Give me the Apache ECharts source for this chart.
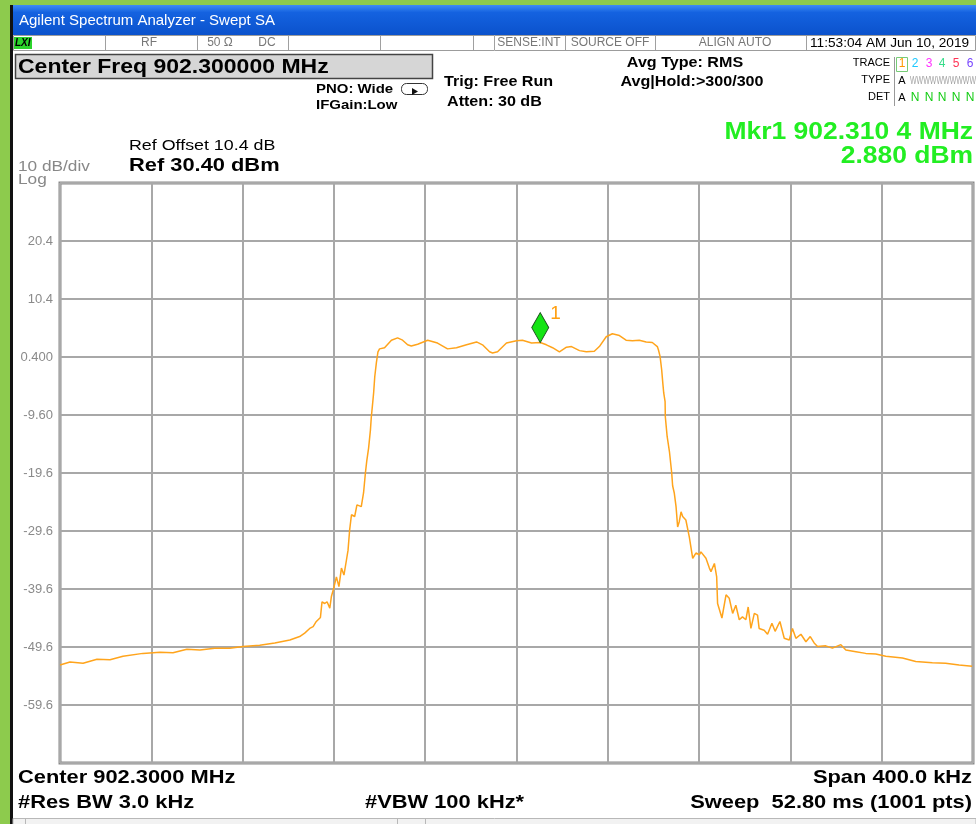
<!DOCTYPE html>
<html>
<head>
<meta charset="utf-8">
<title>Agilent Spectrum Analyzer - Swept SA</title>
<script src="https://cdn.jsdelivr.net/npm/echarts@6/dist/echarts.min.js"></script>
<style>
html, body { margin: 0; padding: 0; background: #fff; }
#chart { width: 976px; height: 824px; }
</style>
</head>
<body>
<div id="chart"></div>
<script>
// trace 1, offset from center 902.3 MHz in kHz, level in dBm
const freqKHz = [
  -200.0, -195.6, -189.9, -183.8, -178.1, -172.4, -163.7, -156.2, -150.5, -144.4,
  -138.7, -132.2, -125.6, -119.9, -112.5, -105.9, -99.3, -95.0, -92.8, -90.6,
  -89.1, -87.7, -85.9, -85.2, -84.0, -83.0, -81.8, -81.1, -80.1, -78.9,
  -77.8, -76.7, -75.6, -74.5, -73.8, -73.1, -72.3, -70.9, -69.9, -68.0,
  -67.0, -66.2, -65.6, -64.8, -64.0, -63.6, -63.1, -62.6, -62.1, -61.4,
  -60.7, -60.0, -57.8, -54.8, -52.1, -49.9, -47.7, -46.1, -43.3, -38.9,
  -34.6, -30.2, -26.3, -21.9, -17.5, -14.9, -11.8, -10.5, -8.3, -4.4,
  0.0, 2.6, 6.6, 10.4, 13.1, 15.8, 18.8, 21.9, 24.1, 27.6,
  30.6, 34.1, 36.3, 39.3, 42.0, 45.1, 48.0, 50.8, 53.8, 56.8,
  59.5, 61.7, 62.2, 62.9, 63.6, 64.1, 64.5, 65.1, 65.2, 66.0,
  67.0, 67.7, 68.0, 68.4, 69.1, 69.9, 70.6, 71.3, 72.1, 72.8,
  74.2, 75.7, 77.2, 78.6, 80.1, 80.8, 83.0, 84.5, 85.2, 86.7,
  87.7, 88.1, 90.0, 91.8, 93.2, 94.7, 96.1, 97.6, 99.0, 100.5,
  101.5, 102.7, 104.2, 105.6, 106.3, 108.5, 110.0, 111.9, 113.3, 115.4,
  117.3, 119.5, 120.9, 122.4, 124.6, 126.8, 128.7, 130.4, 131.9, 135.5,
  138.4, 142.1, 144.3, 148.7, 153.0, 157.4, 161.8, 169.1, 174.9, 182.2,
  188.0, 193.9, 199.6
]
const levelDbm = [
  -52.7, -52.2, -52.4, -51.7, -51.8, -51.2, -50.7, -50.5, -50.6, -50.0,
  -50.1, -49.8, -49.8, -49.5, -49.3, -48.9, -48.4, -47.8, -47.2, -46.4,
  -46.1, -45.2, -44.5, -41.8, -42.1, -41.8, -42.9, -40.9, -39.5, -37.5,
  -39.2, -36.0, -37.2, -34.6, -32.9, -29.4, -26.8, -27.1, -25.1, -25.4,
  -23.0, -19.6, -17.5, -15.3, -12.2, -9.9, -7.9, -5.8, -3.0, -0.6,
  1.3, 1.8, 2.0, 3.3, 3.7, 3.3, 2.5, 2.3, 2.6, 3.3,
  2.8, 1.8, 2.0, 2.5, 3.0, 2.5, 1.3, 1.1, 1.3, 2.8,
  3.2, 3.3, 2.8, 2.9, 2.5, 2.0, 1.3, 2.1, 2.2, 1.5,
  1.3, 1.4, 2.2, 3.9, 4.4, 4.1, 3.3, 3.2, 3.3, 3.0,
  2.9, 2.2, 1.6, 0.5, -1.8, -4.1, -5.8, -7.3, -9.9, -13.3,
  -15.9, -16.1, -19.6, -21.8, -23.0, -25.4, -28.9, -28.0, -26.3, -27.1,
  -27.7, -30.6, -34.3, -33.4, -33.7, -33.2, -34.3, -36.0, -36.6, -35.2,
  -37.5, -42.1, -44.6, -40.6, -41.2, -43.8, -42.4, -44.9, -44.4, -44.9,
  -42.7, -46.4, -43.8, -44.1, -46.4, -46.7, -47.4, -45.5, -46.9, -45.2,
  -48.1, -48.4, -46.4, -48.1, -47.4, -48.7, -47.8, -48.9, -49.5, -49.4,
  -49.8, -49.2, -50.1, -50.4, -50.7, -50.8, -51.2, -51.5, -52.1, -52.3,
  -52.4, -52.7, -52.9
]
const refLevel = 30.4
// gridline labels, bottom to top (ref - 90 ... ref - 10)
const yTickLabels = ['-59.6', '-49.6', '-39.6', '-29.6', '-19.6', '-9.60', '0.400', '10.4', '20.4']
const markerFreq = 10.4
const markerLevel = 2.88

const SX = 1.15
const ARIAL = '"Liberation Sans", Arial, sans-serif'

const txt = (x, y, text, size, opt = {}) => ({
  type: 'text',
  x: x,
  y: y,
  scaleX: opt.sx || SX,
  z: 10,
  style: {
    text: text,
    font: (opt.bold ? 'bold ' : '') + (opt.italic ? 'italic ' : '') + size + 'px ' + ARIAL,
    fill: opt.color || '#000',
    textAlign: opt.align || 'left',
    align: opt.align || 'left',
    textVerticalAlign: 'middle',
    verticalAlign: 'middle'
  }
})
const box = (x, y, w, h, fill, stroke, lw) => ({
  type: 'rect',
  z: 5,
  shape: { x: x, y: y, width: w, height: h },
  style: { fill: fill || 'none', stroke: stroke || null, lineWidth: lw || 1 }
})
const vline = (x, y1, y2, color) => ({
  type: 'line',
  z: 6,
  shape: { x1: x, y1: y1, x2: x, y2: y2 },
  style: { stroke: color || '#a0a0a0', lineWidth: 1 }
})

const chart = echarts.init(document.getElementById('chart'))

const elements = [
  box(0, 0, 976, 5, '#8dcb4d'),
  box(0, 0, 10, 824, '#8dcb4d'),
  box(10, 5, 3, 819, '#111'),
  {
    type: 'rect',
    z: 5,
    shape: { x: 13, y: 5, width: 963, height: 30 },
    style: {
      fill: new echarts.graphic.LinearGradient(0, 0, 0, 1, [
        { offset: 0, color: '#3f8cf4' },
        { offset: 0.25, color: '#1462e0' },
        { offset: 1, color: '#0b52cc' }
      ])
    }
  },
  txt(19, 21, 'Agilent Spectrum Analyzer - Swept SA', 15, { color: '#fff', sx: 1 }),
  // status row
  box(13.5, 35.5, 962, 15, '#fff', '#9c9c9c'),
  box(14, 37, 18, 12, '#2bd42b'),
  txt(15, 43, 'LXI', 10, { bold: true, italic: true, sx: 1 }),
  vline(105.5, 36, 50), vline(197.5, 36, 50), vline(288.5, 36, 50), vline(380.5, 36, 50),
  vline(473.5, 36, 50), vline(494.5, 36, 50), vline(565.5, 36, 50), vline(655.5, 36, 50), vline(806.5, 36, 50),
  txt(149, 43, 'RF', 12, { color: '#777', align: 'center', sx: 1 }),
  txt(220, 43, '50 Ω', 12, { color: '#777', align: 'center', sx: 1 }),
  txt(267, 43, 'DC', 12, { color: '#777', align: 'center', sx: 1 }),
  txt(529, 43, 'SENSE:INT', 12, { color: '#777', align: 'center', sx: 1 }),
  txt(610, 43, 'SOURCE OFF', 12, { color: '#777', align: 'center', sx: 1 }),
  txt(735, 43, 'ALIGN AUTO', 12, { color: '#777', align: 'center', sx: 1 }),
  txt(810, 43, '11:53:04 AM Jun 10, 2019', 13, { sx: 1.05 }),
  // center freq box
  box(15.5, 54.5, 417, 24, '#d6d6d6', '#444', 1.5),
  txt(18, 67, 'Center Freq 902.300000 MHz', 20, { bold: true }),
  txt(316, 89, 'PNO: Wide', 13, { bold: true }),
  txt(316, 105, 'IFGain:Low', 13, { bold: true }),
  {
    type: 'rect',
    z: 6,
    shape: { x: 401.5, y: 83.5, width: 26, height: 11, r: 5 },
    style: { fill: 'none', stroke: '#333', lineWidth: 1 }
  },
  {
    type: 'polygon',
    z: 6,
    shape: { points: [[412, 88], [412, 95], [418, 91.5]] },
    style: { fill: '#111' }
  },
  txt(444, 82, 'Trig: Free Run', 14, { bold: true }),
  txt(447, 102, 'Atten: 30 dB', 14, { bold: true }),
  txt(685, 63, 'Avg Type: RMS', 14, { bold: true, align: 'center' }),
  txt(692, 82, 'Avg|Hold:>300/300', 14, { bold: true, align: 'center' }),
  // trace table
  txt(890, 63, 'TRACE', 11, { align: 'right', sx: 1 }),
  txt(890, 80, 'TYPE', 11, { align: 'right', sx: 1 }),
  txt(890, 97, 'DET', 11, { align: 'right', sx: 1 }),
  vline(894.5, 57, 106, '#999'),
  box(896.5, 57.5, 11, 14, 'none', '#7c7', 1),
  txt(902, 64, '1', 12, { color: '#ff9900', align: 'center', sx: 1 }),
  txt(915, 64, '2', 12, { color: '#1ec8ff', align: 'center', sx: 1 }),
  txt(929, 64, '3', 12, { color: '#ff33ff', align: 'center', sx: 1 }),
  txt(942, 64, '4', 12, { color: '#33dd88', align: 'center', sx: 1 }),
  txt(956, 64, '5', 12, { color: '#ff3355', align: 'center', sx: 1 }),
  txt(970, 64, '6', 12, { color: '#7744ff', align: 'center', sx: 1 }),
  txt(902, 81, 'A', 11, { align: 'center', sx: 1 }),
  txt(910, 81, 'WWWWWWWWWW', 10, { color: '#a0a0a0', sx: 0.7 }),
  txt(902, 98, 'A', 11, { align: 'center', sx: 1 }),
  txt(915, 98, 'N', 12, { color: '#11cc11', align: 'center', sx: 1 }),
  txt(929, 98, 'N', 12, { color: '#11cc11', align: 'center', sx: 1 }),
  txt(942, 98, 'N', 12, { color: '#11cc11', align: 'center', sx: 1 }),
  txt(956, 98, 'N', 12, { color: '#11cc11', align: 'center', sx: 1 }),
  txt(970, 98, 'N', 12, { color: '#11cc11', align: 'center', sx: 1 }),
  // scale info
  txt(129, 146, 'Ref Offset 10.4 dB', 15.5),
  txt(129, 166, 'Ref 30.40 dBm', 19, { bold: true }),
  txt(18, 167, '10 dB/div', 15, { color: '#888' }),
  txt(18, 180, 'Log', 15, { color: '#888' }),
  txt(973, 133, 'Mkr1 902.310 4 MHz', 23, { bold: true, color: '#22ee22', align: 'right' }),
  txt(973, 157, '2.880 dBm', 23, { bold: true, color: '#22ee22', align: 'right' }),
  // footer
  txt(18, 778, 'Center 902.3000 MHz', 19, { bold: true }),
  txt(972, 778, 'Span 400.0 kHz', 19, { bold: true, align: 'right' }),
  txt(18, 803, '#Res BW 3.0 kHz', 19, { bold: true }),
  txt(365, 803, '#VBW 100 kHz*', 19, { bold: true }),
  txt(972, 803, 'Sweep  52.80 ms (1001 pts)', 19, { bold: true, align: 'right' }),
  box(13, 818.5, 963, 6, '#f2f2f2', '#b8b8b8'),
  vline(25.5, 819, 824, '#b8b8b8'), vline(397.5, 819, 824, '#b8b8b8'), vline(425.5, 819, 824, '#b8b8b8')
]

const option = {
  backgroundColor: '#ffffff',
  animation: false,
  graphic: { elements: elements },
  grid: {
    left: 60,
    top: 183,
    width: 913,
    height: 580,
    show: true,
    borderColor: '#8a8a8a',
    borderWidth: 3,
    backgroundColor: '#ffffff'
  },
  xAxis: {
    type: 'value',
    min: -200,
    max: 200,
    interval: 40,
    axisLine: { show: false },
    axisTick: { show: false },
    axisLabel: { show: false },
    splitLine: { lineStyle: { color: '#a8a8a8', width: 2 } }
  },
  yAxis: {
    type: 'value',
    min: -100,
    max: 0,
    interval: 10,
    axisLine: { show: false },
    axisTick: { show: false },
    axisLabel: {
      showMinLabel: false,
      showMaxLabel: false,
      color: '#8a8a8a',
      fontSize: 13,
      fontFamily: ARIAL,
      margin: 7,
      formatter: (v) => yTickLabels[Math.round((v + 90) / 10)] || ''
    },
    splitLine: { lineStyle: { color: '#a8a8a8', width: 2 } }
  },
  series: [
    {
      name: 'Trace 1',
      type: 'line',
      showSymbol: false,
      silent: true,
      lineStyle: { color: '#ffa41c', width: 1.5 },
      data: freqKHz.map((f, i) => [f, levelDbm[i] - refLevel]),
      markPoint: {
        symbol: 'diamond',
        symbolSize: [17, 30],
        symbolOffset: [0, '-50%'],
        itemStyle: { color: '#14e414', borderColor: '#1d4d1d', borderWidth: 1 },
        label: {
          show: true,
          formatter: '1',
          position: [19, -8],
          color: '#ff9f10',
          fontSize: 19,
          fontFamily: ARIAL
        },
        data: [{ coord: [markerFreq, markerLevel - refLevel] }]
      }
    }
  ]
}

chart.setOption(option)
</script>
</body>
</html>
